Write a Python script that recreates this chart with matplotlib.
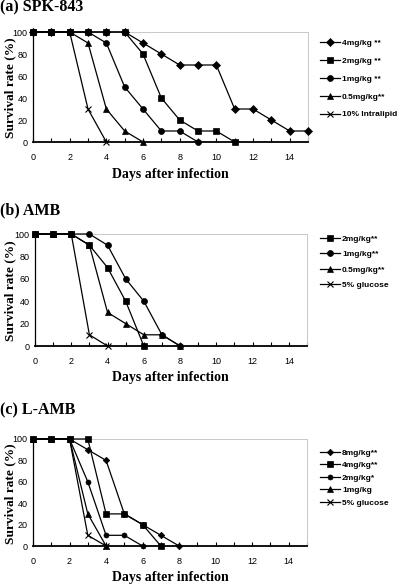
import matplotlib
matplotlib.use("Agg")
import matplotlib.pyplot as plt

days = list(range(0, 16))

# (a) SPK-843
a_labels = ["4mg/kg **", "2mg/kg **", "1mg/kg **", "0.5mg/kg**", "10% Intralipid"]
a_4 = [100, 100, 100, 100, 100, 100, 90, 80, 70, 70, 70, 30, 30, 20, 10, 10]
a_2 = [100, 100, 100, 100, 100, 100, 80, 40, 20, 10, 10, 0]
a_1 = [100, 100, 100, 100, 90, 50, 30, 10, 10, 0]
a_05 = [100, 100, 100, 90, 30, 10, 0]
a_ctrl = [100, 100, 100, 30, 0]

# (b) AMB
b_labels = ["2mg/kg**", "1mg/kg**", "0.5mg/kg**", "5% glucose"]
b_2 = [100, 100, 100, 90, 70, 40, 0]
b_1 = [100, 100, 100, 100, 90, 60, 40, 10, 0]
b_05 = [100, 100, 100, 90, 30, 20, 10, 10, 0]
b_ctrl = [100, 100, 100, 10, 0]

# (c) L-AMB
c_labels = ["8mg/kg**", "4mg/kg**", "2mg/kg*", "1mg/kg", "5% glucose"]
c_8 = [100, 100, 100, 90, 80, 30, 20, 10, 0]
c_4 = [100, 100, 100, 100, 30, 30, 20, 0]
c_2 = [100, 100, 100, 60, 10, 10, 0]
c_1 = [100, 100, 100, 30, 0]
c_ctrl = [100, 100, 100, 10, 0]

titles = ["(a) SPK-843", "(b) AMB", "(c) L-AMB"]
xticks = list(range(0, 16, 2))
yticks = [0, 20, 40, 60, 80, 100]

W, H = 400, 584
fig = plt.figure(figsize=(4, 5.84), dpi=100)

serif = ["Liberation Serif", "DejaVu Serif"]
sans = ["Liberation Sans", "DejaVu Sans"]

def fx(px):
    return px / W

def fy(py):
    return 1 - py / H

panels = [
    dict(box=(33, 32, 308, 142), title_y=7, xlabel_y=175,
         series=[(a_4, "D", 4.0), (a_2, "s", 4.3), (a_1, "o", 4.3), (a_05, "^", 4.5), (a_ctrl, "x", 5.0)],
         labels=a_labels, leg_top=44, leg_sp=1.21),
    dict(box=(35, 234, 307, 346), title_y=210, xlabel_y=378,
         series=[(b_2, "s", 4.3), (b_1, "o", 4.3), (b_05, "^", 4.5), (b_ctrl, "x", 5.0)],
         labels=b_labels, leg_top=240, leg_sp=0.9),
    dict(box=(33, 439, 307, 546), title_y=410, xlabel_y=577,
         series=[(c_8, "D", 3.3), (c_4, "s", 4.3), (c_2, "o", 3.6), (c_1, "^", 4.0), (c_ctrl, "x", 4.5)],
         labels=c_labels, leg_top=454, leg_sp=0.56),
]

for i, p in enumerate(panels):
    l, t, r, b = p["box"]
    ax = fig.add_axes([fx(l), fy(b), fx(r) - fx(l), (b - t) / H])
    lines = []
    for vals, mk, ms in p["series"]:
        ln, = ax.plot(days[:len(vals)], vals, color="black", lw=0.9, marker=mk,
                      ms=ms, mew=0.8 if mk == "x" else 0.5, clip_on=False, zorder=3)
        lines.append(ln)
    ax.set_xlim(0, 15)
    ax.set_ylim(0, 100)
    ax.set_xticks(range(0, 16))
    ax.set_xticklabels([str(d) if d in xticks else "" for d in range(0, 16)],
                       family=sans, fontsize=6.5)
    ax.set_yticks(yticks)
    ax.set_yticklabels([str(v) for v in yticks], family=sans, fontsize=6.5)
    ax.tick_params(axis="x", direction="in", length=3, width=0.8, pad=8)
    ax.tick_params(axis="y", length=0, pad=4)
    for s in ["top", "right"]:
        ax.spines[s].set_color("#c8c8c8")
        ax.spines[s].set_linewidth(0.7)
    ax.spines["bottom"].set_linewidth(1.3)
    ax.spines["left"].set_linewidth(0.9)
    fig.text(fx(10), fy((t + b) / 2 + 1), "Survival rate (%)", family=serif,
             fontsize=9.6, fontweight="bold", rotation=90, va="center", ha="center")
    fig.text(0.0, fy(p["title_y"]), titles[i], family=serif, fontsize=11.5,
             fontweight="bold", va="center", ha="left")
    fig.text(fx(170), fy(p["xlabel_y"]), "Days after infection", family=serif,
             fontsize=10, fontweight="bold", va="center", ha="center")
    leg = fig.legend(lines, p["labels"], loc="upper left",
                     bbox_to_anchor=(fx(320), fy(p["leg_top"] - 5)),
                     frameon=False, borderpad=0, borderaxespad=0,
                     handlelength=2.4, handletextpad=0.25,
                     labelspacing=p["leg_sp"],
                     prop=dict(family=sans, size=6, weight="bold"))

fig.savefig("out.png", dpi=100)
